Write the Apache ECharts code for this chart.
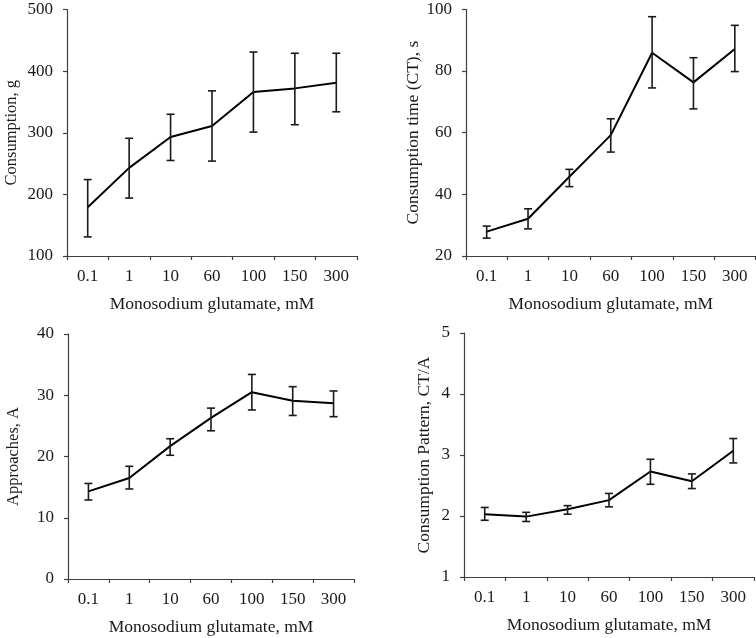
<!DOCTYPE html>
<html>
<head>
<meta charset="utf-8">
<script src="https://cdn.jsdelivr.net/npm/echarts@6/dist/echarts.min.js"></script>
<style>html,body{margin:0;padding:0;background:#fff}#c{width:756px;height:638px}</style>
</head>
<body>
<div id="c"></div>
<script>
const categories = ['0.1', '1', '10', '60', '100', '150', '300'];

const consumption     = [179, 243, 293, 311, 366, 372, 381];
const consumptionLow  = [131, 194, 255, 254, 301, 313, 334];
const consumptionHigh = [224, 291, 330, 368, 431, 429, 429];

const ctime     = [27.9, 32.1, 45.7, 59.2, 85.9, 76.3, 87.1];
const ctimeLow  = [25.8, 28.8, 42.5, 53.7, 74.5, 67.7, 79.8];
const ctimeHigh = [29.7, 35.3, 48.1, 64.5, 97.6, 84.3, 94.8];

const approaches     = [14.3, 16.5, 21.7, 26.3, 30.5, 29.1, 28.7];
const approachesLow  = [12.9, 14.7, 20.2, 24.2, 27.6, 26.7, 26.5];
const approachesHigh = [15.6, 18.4, 22.9, 27.9, 33.4, 31.4, 30.7];

const pattern     = [2.03, 1.99, 2.11, 2.26, 2.73, 2.57, 3.07];
const patternLow  = [1.93, 1.91, 2.03, 2.15, 2.52, 2.45, 2.87];
const patternHigh = [2.14, 2.06, 2.17, 2.37, 2.93, 2.69, 3.27];

const xTitle = 'Monosodium glutamate, mM';
const yTitles = ['Consumption, g', 'Consumption time (CT), s', 'Approaches, A', 'Consumption Pattern, CT/A'];

const FONT = "'Liberation Serif', 'Times New Roman', serif";
const AXIS_COLOR = '#404040';
const TEXT_COLOR = '#1a1a1a';

const panels = [
  {grid: {left: 67, top: 9.5, right: 399, bottom: 382}, min: 100, max: 500, interval: 100, mean: consumption, lo: consumptionLow, hi: consumptionHigh, nameGap: 47, nameSize: 16.5},
  {grid: {left: 466, top: 9.3, right: 0.5, bottom: 382}, min: 20, max: 100, interval: 20, mean: ctime, lo: ctimeLow, hi: ctimeHigh, nameGap: 37, nameSize: 17.5},
  {grid: {left: 68, top: 334, right: 402, bottom: 59}, min: 0, max: 40, interval: 10, mean: approaches, lo: approachesLow, hi: approachesHigh, nameGap: 46, nameSize: 16.5},
  {grid: {left: 464, top: 333, right: 2, bottom: 61}, min: 1, max: 5, interval: 1, mean: pattern, lo: patternLow, hi: patternHigh, nameGap: 31, nameSize: 17.5}
];

function errRender(params, api) {
  const x = api.value(0);
  const lo = api.coord([x, api.value(1)]);
  const hi = api.coord([x, api.value(2)]);
  const w = 4;
  const st = {stroke: '#1a1a1a', lineWidth: 1.6};
  return {
    type: 'group',
    children: [
      {type: 'line', shape: {x1: lo[0], y1: lo[1], x2: hi[0], y2: hi[1]}, style: st},
      {type: 'line', shape: {x1: lo[0] - w, y1: lo[1], x2: lo[0] + w, y2: lo[1]}, style: st},
      {type: 'line', shape: {x1: hi[0] - w, y1: hi[1], x2: hi[0] + w, y2: hi[1]}, style: st}
    ]
  };
}

const grids = [], xAxes = [], yAxes = [], series = [];
panels.forEach((p, i) => {
  grids.push(Object.assign({containLabel: false}, p.grid));
  xAxes.push({
    type: 'category', gridIndex: i, data: categories, boundaryGap: true,
    name: xTitle, nameLocation: 'middle', nameGap: 39,
    nameTextStyle: {fontFamily: FONT, fontSize: 17.5, color: TEXT_COLOR},
    axisLine: {lineStyle: {color: AXIS_COLOR, width: 1.2}},
    axisTick: {show: true, inside: false, length: 4, alignWithLabel: false, lineStyle: {color: AXIS_COLOR, width: 1.2}},
    axisLabel: {fontFamily: FONT, fontSize: 17, color: TEXT_COLOR, margin: 12},
    splitLine: {show: false}
  });
  yAxes.push({
    type: 'value', gridIndex: i, min: p.min, max: p.max, interval: p.interval,
    name: yTitles[i], nameLocation: 'middle', nameGap: p.nameGap, nameRotate: 90,
    nameTextStyle: {fontFamily: FONT, fontSize: p.nameSize, color: TEXT_COLOR},
    axisLine: {show: true, lineStyle: {color: AXIS_COLOR, width: 1.2}},
    axisTick: {show: true, inside: false, length: 4, lineStyle: {color: AXIS_COLOR, width: 1.2}},
    axisLabel: {fontFamily: FONT, fontSize: 17, color: TEXT_COLOR, margin: 14},
    splitLine: {show: false}
  });
  series.push({
    type: 'line', xAxisIndex: i, yAxisIndex: i, data: p.mean,
    symbol: 'none', lineStyle: {color: '#000', width: 2}, animation: false, z: 3
  });
  series.push({
    type: 'custom', xAxisIndex: i, yAxisIndex: i,
    data: categories.map((c, j) => [j, p.lo[j], p.hi[j]]),
    renderItem: errRender, animation: false, z: 4
  });
});

const chart = echarts.init(document.getElementById('c'), null, {renderer: 'canvas'});
chart.setOption({
  backgroundColor: '#fff',
  animation: false,
  grid: grids, xAxis: xAxes, yAxis: yAxes, series: series
});
</script>
</body>
</html>
